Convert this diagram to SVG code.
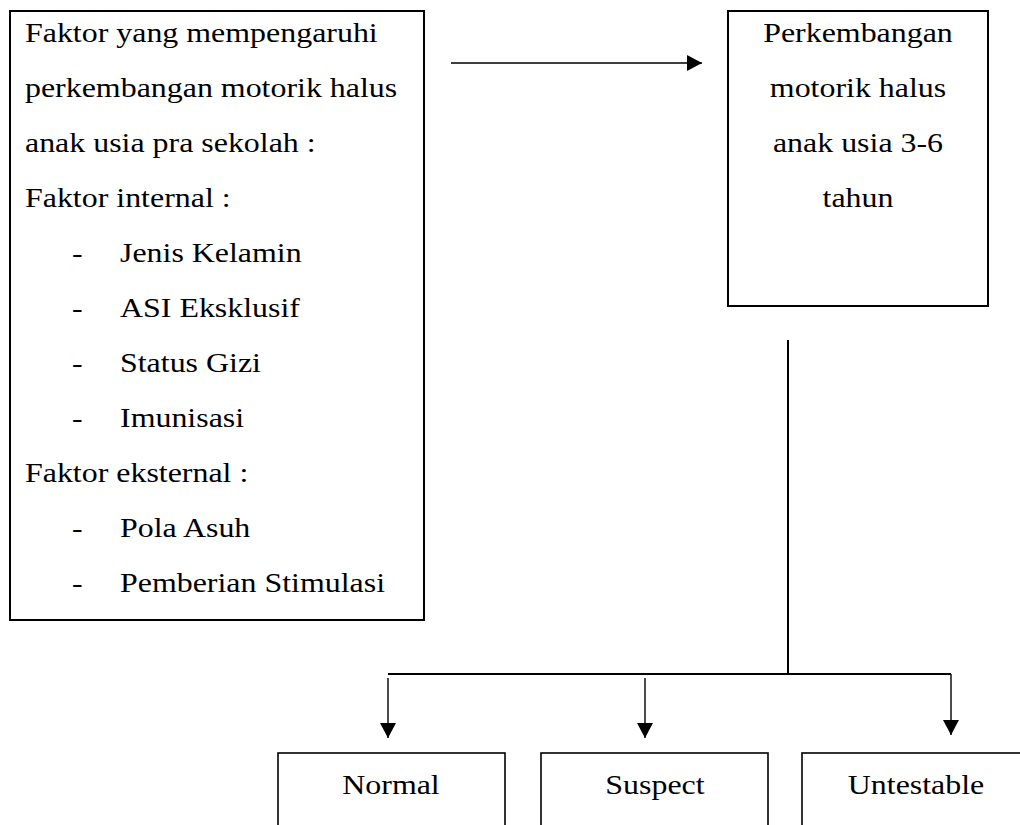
<svg xmlns="http://www.w3.org/2000/svg" width="1020" height="825" viewBox="0 0 1020 825">
<style>
text{font-family:"Liberation Serif","Times New Roman",serif;font-size:28px;fill:#000}
.c{text-anchor:middle}
.box{fill:none;stroke:#000;stroke-width:2}
.bx{fill:none;stroke:#000;stroke-width:1.6}
.ln{stroke:#000;stroke-width:1.4;fill:none}
.bus{stroke:#000;stroke-width:2;fill:none}
</style>
<defs>
<marker id="ah" markerUnits="userSpaceOnUse" markerWidth="16" markerHeight="16" refX="15" refY="8" orient="auto" viewBox="0 0 16 16"><path d="M0,0 L15,8 L0,16 z" fill="#000"/></marker>
</defs>
<rect width="1020" height="825" fill="#fff"/>
<g id="factors">
<rect class="box" x="10" y="11" width="414" height="609"/>
<text transform="translate(25 42) scale(1.14 1)">Faktor yang mempengaruhi</text>
<text transform="translate(25 97) scale(1.14 1)">perkembangan motorik halus</text>
<text transform="translate(25 152) scale(1.14 1)">anak usia pra sekolah :</text>
<text transform="translate(25 207) scale(1.14 1)">Faktor internal :</text>
<text transform="translate(72 262) scale(1.14 1)">-</text>
<text transform="translate(120 262) scale(1.14 1)">Jenis Kelamin</text>
<text transform="translate(72 317) scale(1.14 1)">-</text>
<text transform="translate(120 317) scale(1.14 1)">ASI Eksklusif</text>
<text transform="translate(72 372) scale(1.14 1)">-</text>
<text transform="translate(120 372) scale(1.14 1)">Status Gizi</text>
<text transform="translate(72 427) scale(1.14 1)">-</text>
<text transform="translate(120 427) scale(1.14 1)">Imunisasi</text>
<text transform="translate(25 482) scale(1.14 1)">Faktor eksternal :</text>
<text transform="translate(72 537) scale(1.14 1)">-</text>
<text transform="translate(120 537) scale(1.14 1)">Pola Asuh</text>
<text transform="translate(72 592) scale(1.14 1)">-</text>
<text transform="translate(120 592) scale(1.14 1)">Pemberian Stimulasi</text>
</g>
<g id="development">
<rect class="box" x="728" y="11" width="260" height="295"/>
<text class="c" transform="translate(858 42) scale(1.14 1)">Perkembangan</text>
<text class="c" transform="translate(858 97) scale(1.14 1)">motorik halus</text>
<text class="c" transform="translate(858 152) scale(1.14 1)">anak usia 3-6</text>
<text class="c" transform="translate(858 207) scale(1.14 1)">tahun</text>
</g>
<g id="normal">
<rect class="bx" x="278" y="753" width="227" height="100"/>
<text class="c" transform="translate(391 794) scale(1.14 1)">Normal</text>
</g>
<g id="suspect">
<rect class="bx" x="541" y="753" width="227" height="100"/>
<text class="c" transform="translate(655 794) scale(1.14 1)">Suspect</text>
</g>
<g id="untestable">
<rect class="bx" x="802" y="753" width="240" height="100"/>
<text class="c" transform="translate(916 794) scale(1.14 1)">Untestable</text>
</g>
<g id="connectors">
<line class="ln" x1="451" y1="63" x2="702" y2="63" marker-end="url(#ah)"/>
<line class="bus" x1="788" y1="340" x2="788" y2="674"/>
<line class="bus" x1="388" y1="674" x2="951" y2="674"/>
<line class="ln" x1="388" y1="678" x2="388" y2="738" marker-end="url(#ah)"/>
<line class="ln" x1="645" y1="678" x2="645" y2="738" marker-end="url(#ah)"/>
<line class="ln" x1="951" y1="674" x2="951" y2="735" marker-end="url(#ah)"/>
</g>
</svg>
